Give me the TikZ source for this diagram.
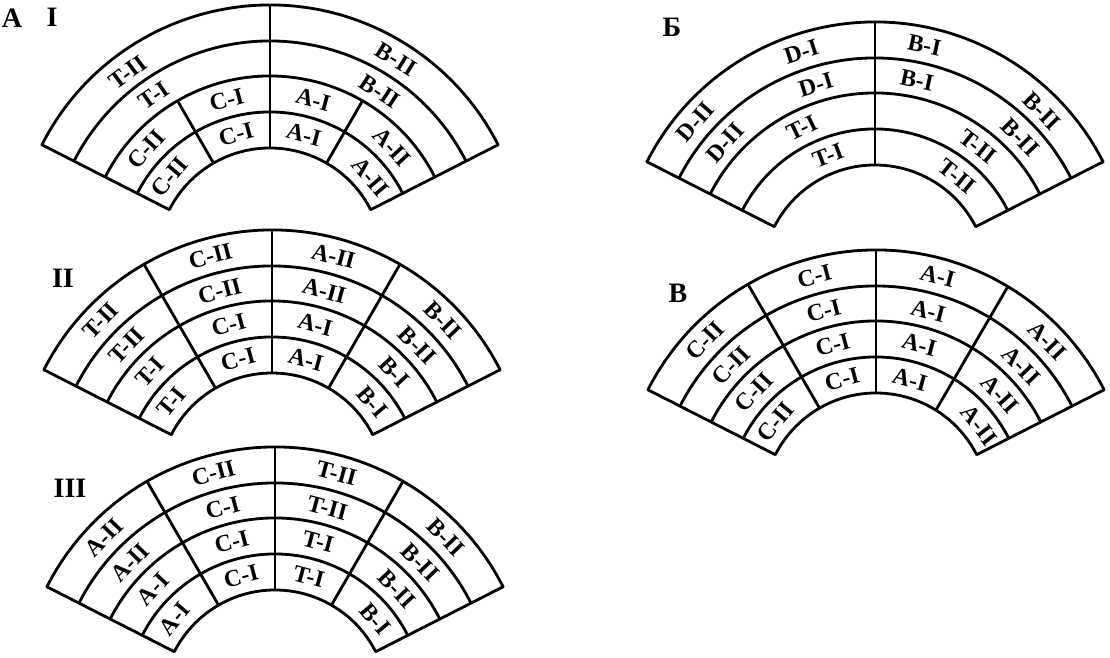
\documentclass[tikz,border=0pt]{standalone}
\usepackage{fontspec}
\setmainfont{Liberation Serif}
\tikzset{
  fanline/.style={line width=2pt, line join=round},
  cell/.style={font=\bfseries\fontsize{17}{17}\selectfont, inner sep=0pt},
  tag/.style={font=\bfseries\fontsize{20}{20}\selectfont, inner sep=0pt}
}

\begin{document}
\begin{tikzpicture}[x=0.025cm, y=0.025cm]
\useasboundingbox (0,0) rectangle (1110,657);

% --- HEADINGS ---
\node[tag] (tA) at (12,639) {А};
\node[tag] (tI) at (52,640) {I};
\node[tag] (tII) at (63,379) {II};
\node[tag] (tIII) at (70,169) {III};
\node[tag] (tB) at (672,630) {Б};
\node[tag] (tV) at (678,364) {В};

% --- FAN A-I ---
\begin{scope}[shift={(270,396)}]
    % Rings
    \draw[fanline] (27:113) arc (27:153:113) -- (153:256) arc (153:27:256) -- cycle;
    \draw[fanline] (27:149) arc (27:153:149);
    \draw[fanline] (27:185) arc (27:153:185);
    \draw[fanline] (27:220) arc (27:153:220);
    % Dividers
    \draw[fanline] (90:113) -- (90:256);
    \draw[fanline] (60:113) -- (60:185);
    \draw[fanline] (120:113) -- (120:185);
    % Cells
    \node[cell, rotate=37] (aI41) at (127:236) {T-II};
    \node[cell, rotate=-32] (aI44) at (58:238) {B-II};
    \node[cell, rotate=35] (aI31) at (125:202) {T-I};
    \node[cell, rotate=-33] (aI34) at (57:202) {B-II};
    \node[cell, rotate=48] (aI21) at (138:167) {C-II};
    \node[cell, rotate=15] (aI22) at (105:167) {C-I};
    \node[cell, rotate=-15] (aI23) at (75:167) {A-I};
    \node[cell, rotate=-47] (aI24) at (43:167) {A-II};
    \node[cell, rotate=50] (aI11) at (140:131) {C-II};
    \node[cell, rotate=15] (aI12) at (105:131) {C-I};
    \node[cell, rotate=-15] (aI13) at (75:131) {A-I};
    \node[cell, rotate=-50] (aI14) at (40:131) {A-II};
\end{scope}

% --- FAN A-II ---
\begin{scope}[shift={(272,171)}]
    \draw[fanline] (27:113) arc (27:153:113) -- (153:256) arc (153:27:256) -- cycle;
    \draw[fanline] (27:149) arc (27:153:149);
    \draw[fanline] (27:185) arc (27:153:185);
    \draw[fanline] (27:220) arc (27:153:220);
    \draw[fanline] (90:113) -- (90:256);
    \draw[fanline] (60:113) -- (60:256);
    \draw[fanline] (120:113) -- (120:256);
    \node[cell, rotate=46] (aII41) at (136:238) {T-II};
    \node[cell, rotate=15] (aII42) at (105:238) {C-II};
    \node[cell, rotate=-15] (aII43) at (75:238) {A-II};
    \node[cell, rotate=-46] (aII44) at (44:238) {B-II};
    \node[cell, rotate=46] (aII31) at (136:202) {T-II};
    \node[cell, rotate=15] (aII32) at (105:202) {C-II};
    \node[cell, rotate=-15] (aII33) at (75:202) {A-II};
    \node[cell, rotate=-46] (aII34) at (44:202) {B-II};
    \node[cell, rotate=47] (aII21) at (137:167) {T-I};
    \node[cell, rotate=15] (aII22) at (105:167) {C-I};
    \node[cell, rotate=-15] (aII23) at (75:167) {A-I};
    \node[cell, rotate=-47] (aII24) at (43:167) {B-I};
    \node[cell, rotate=50] (aII11) at (140:131) {T-I};
    \node[cell, rotate=15] (aII12) at (105:131) {C-I};
    \node[cell, rotate=-15] (aII13) at (75:131) {A-I};
    \node[cell, rotate=-50] (aII14) at (40:131) {B-I};
\end{scope}

% --- FAN A-III ---
\begin{scope}[shift={(275,-46)}]
    \draw[fanline] (27:113) arc (27:153:113) -- (153:256) arc (153:27:256) -- cycle;
    \draw[fanline] (27:149) arc (27:153:149);
    \draw[fanline] (27:185) arc (27:153:185);
    \draw[fanline] (27:220) arc (27:153:220);
    \draw[fanline] (90:113) -- (90:256);
    \draw[fanline] (60:113) -- (60:256);
    \draw[fanline] (120:113) -- (120:256);
    \node[cell, rotate=46] (aIII41) at (136:238) {A-II};
    \node[cell, rotate=15] (aIII42) at (105:238) {C-II};
    \node[cell, rotate=-15] (aIII43) at (75:238) {T-II};
    \node[cell, rotate=-46] (aIII44) at (44:238) {B-II};
    \node[cell, rotate=46] (aIII31) at (136:202) {A-II};
    \node[cell, rotate=15] (aIII32) at (105:202) {C-I};
    \node[cell, rotate=-15] (aIII33) at (75:202) {T-II};
    \node[cell, rotate=-46] (aIII34) at (44:202) {B-II};
    \node[cell, rotate=47] (aIII21) at (137:167) {A-I};
    \node[cell, rotate=15] (aIII22) at (105:167) {C-I};
    \node[cell, rotate=-15] (aIII23) at (75:167) {T-I};
    \node[cell, rotate=-47] (aIII24) at (43:167) {B-II};
    \node[cell, rotate=50] (aIII11) at (140:131) {A-I};
    \node[cell, rotate=15] (aIII12) at (105:131) {C-I};
    \node[cell, rotate=-15] (aIII13) at (75:131) {T-I};
    \node[cell, rotate=-50] (aIII14) at (40:131) {B-I};
\end{scope}

% --- FAN B (only the middle divider) ---
\begin{scope}[shift={(875,379)}]
    \draw[fanline] (27:113) arc (27:153:113) -- (153:256) arc (153:27:256) -- cycle;
    \draw[fanline] (27:149) arc (27:153:149);
    \draw[fanline] (27:185) arc (27:153:185);
    \draw[fanline] (27:220) arc (27:153:220);
    \draw[fanline] (90:113) -- (90:256);
    \node[cell, rotate=49] (b41) at (139:238) {D-II};
    \node[cell, rotate=18] (b42) at (108:238) {D-I};
    \node[cell, rotate=-12] (b43) at (78:238) {B-I};
    \node[cell, rotate=-45] (b44) at (45:236) {B-II};
    \node[cell, rotate=48] (b31) at (138:202) {D-II};
    \node[cell, rotate=17] (b32) at (107:202) {D-I};
    \node[cell, rotate=-12] (b33) at (78:202) {B-I};
    \node[cell, rotate=-46] (b34) at (44:202) {B-II};
    \node[cell, rotate=26] (b21) at (116:167) {T-I};
    \node[cell, rotate=-38] (b24) at (52:167) {T-II};
    \node[cell, rotate=21] (b11) at (111:131) {T-I};
    \node[cell, rotate=-39] (b14) at (51:131) {T-II};
\end{scope}

% --- FAN V ---
\begin{scope}[shift={(876,151)}]
    \draw[fanline] (27:113) arc (27:153:113) -- (153:256) arc (153:27:256) -- cycle;
    \draw[fanline] (27:149) arc (27:153:149);
    \draw[fanline] (27:185) arc (27:153:185);
    \draw[fanline] (27:220) arc (27:153:220);
    \draw[fanline] (90:113) -- (90:256);
    \draw[fanline] (58:113) -- (59:256);
    \draw[fanline] (120:113) -- (120:256);
    \node[cell, rotate=46] (v41) at (136:238) {C-II};
    \node[cell, rotate=15] (v42) at (105:238) {C-I};
    \node[cell, rotate=-15] (v43) at (75:238) {A-I};
    \node[cell, rotate=-46] (v44) at (44:238) {A-II};
    \node[cell, rotate=46] (v31) at (136:202) {C-II};
    \node[cell, rotate=15] (v32) at (105:202) {C-I};
    \node[cell, rotate=-15] (v33) at (75:202) {A-I};
    \node[cell, rotate=-46] (v34) at (44:202) {A-II};
    \node[cell, rotate=47] (v21) at (137:167) {C-II};
    \node[cell, rotate=15] (v22) at (105:167) {C-I};
    \node[cell, rotate=-15] (v23) at (75:167) {A-I};
    \node[cell, rotate=-48] (v24) at (42:167) {A-II};
    \node[cell, rotate=50] (v11) at (140:131) {C-II};
    \node[cell, rotate=15] (v12) at (105:131) {C-I};
    \node[cell, rotate=-15] (v13) at (75:131) {A-I};
    \node[cell, rotate=-52] (v14) at (38:131) {A-II};
\end{scope}

\end{tikzpicture}
\end{document}
